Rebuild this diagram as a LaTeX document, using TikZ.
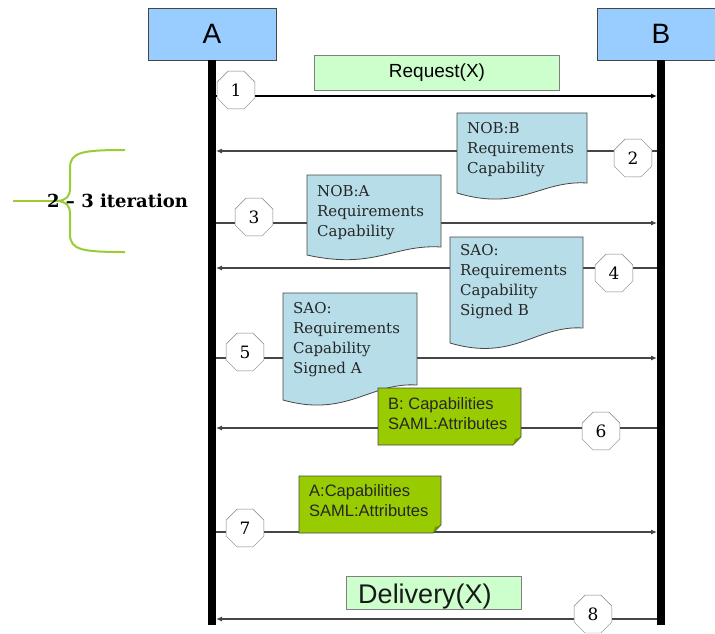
\documentclass[tikz,border=0pt]{standalone}
\usepackage{fontspec}
\setmainfont{DejaVu Serif}
\setsansfont{Liberation Sans}
\usepackage{tikz}
\usetikzlibrary{shapes.geometric}
\usetikzlibrary{arrows.meta}
\usetikzlibrary{positioning}
\definecolor{actorblue}{RGB}{153,204,255}
\definecolor{paleblue}{RGB}{183,221,232}
\definecolor{palegreen}{RGB}{204,255,204}
\definecolor{attrgreen}{RGB}{153,204,0}
\definecolor{foldgreen}{RGB}{110,150,0}
\definecolor{bracegreen}{RGB}{154,205,50}
\definecolor{edgegray}{RGB}{70,70,70}
\tikzset{
    actor/.style = {rectangle, draw=edgegray, fill=actorblue, inner sep=0pt, font=\sffamily\fontsize{28}{32}\selectfont, minimum width=128pt, minimum height=52pt},
    lifeline/.style = {line width=8.5pt, black},
    stepnode/.style = {regular polygon, regular polygon sides=8, draw=gray, fill=white, inner sep=0pt, minimum size=41pt, font=\fontsize{17}{20}\selectfont},
    palebox/.style = {rectangle, draw=gray, fill=palegreen, inner sep=0pt},
}

\begin{document}
\begin{tikzpicture}[
	x=1pt, y=-1pt,
	font=\fontsize{15}{20}\selectfont
]
\tikzset{
    msg/.style = {-{Latex[length=6pt,width=5pt]}, line width=1.1pt, edgegray},
    docshape/.style = {draw=edgegray, fill=paleblue, line width=0.8pt},
    attrshape/.style = {draw=edgegray, fill=attrgreen, line width=0.8pt},
    doctext/.style = {anchor=north west, inner sep=0pt, align=left, text=black!85},
    attrtext/.style = {anchor=north west, inner sep=0pt, align=left, text=black!85, font=\sffamily\fontsize{16.5}{20}\selectfont}
}
\useasboundingbox (0,0) rectangle (715,633);
%
\node[actor] at (212,34) (a) {A};
\node[actor] at (661,34) (b) {B};
\coordinate (aend) at (212,625);
\coordinate (bend) at (661,625);
\draw[lifeline] (a.south) -- (aend);
\draw[lifeline] (b.south) -- (bend);
%
\foreach \i/\y in {1/96,2/151,3/223,4/268,5/358,6/428,7/532,8/619}{
    \coordinate (a\i) at (216,\y);
    \coordinate (b\i) at (657,\y);
}
\draw[msg, black] (a1) -- (b1);
\draw[msg] (b2) -- (a2);
\draw[msg] (a3) -- (b3);
\draw[msg] (b4) -- (a4);
\draw[msg] (a5) -- (b5);
\draw[msg] (b6) -- (a6);
\draw[msg] (a7) -- (b7);
\draw[msg] (b8) -- (a8);
%
\node[palebox, minimum width=245pt, minimum height=35pt, font=\sffamily\fontsize{19}{22}\selectfont] at (437,72.5) (req) {Request(X)};
%
\draw[docshape] (457,113) -- (587,113) -- (587,183) .. controls (540,180) and (520,212) .. (457,193) -- cycle;
\draw[docshape] (307,175) -- (441,175) -- (441,247) .. controls (394,244) and (374,270) .. (307,255) -- cycle;
\draw[docshape] (450,237) -- (583,237) -- (583,328) .. controls (536,325) and (514,362) .. (450,343) -- cycle;
\draw[docshape] (283,293) -- (417,293) -- (417,385) .. controls (370,382) and (347,418) .. (283,400) -- cycle;
\node[doctext] at (467,122) (m2) {NOB:B\\Requirements\\Capability};
\node[doctext] at (317,185) (m3) {NOB:A\\Requirements\\Capability};
\node[doctext] at (460,244) (m4) {SAO:\\Requirements\\Capability\\Signed B};
\node[doctext] at (293,302) (m5) {SAO:\\Requirements\\Capability\\Signed A};
%
\draw[attrshape] (378,388) -- (521,388) -- (521,437) -- (513,445) -- (378,445) -- cycle;
\fill[foldgreen] (513,445) -- (515,439) -- (521,437) -- cycle;
\draw[attrshape] (299,476) -- (441,476) -- (441,525) -- (433,533) -- (299,533) -- cycle;
\fill[foldgreen] (433,533) -- (435,527) -- (441,525) -- cycle;
\node[attrtext] at (388,397) (m6) {B: Capabilities\\SAML:Attributes};
\node[attrtext] at (309,484) (m7) {A:Capabilities\\SAML:Attributes};
%
\node[palebox, minimum width=175pt, minimum height=33pt] at (433.5,592.5) (delbox) {};
\node[font=\sffamily\fontsize{27}{30}\selectfont, text=black!90] at (425,597) (del) {Delivery(X)};
%
\node[stepnode] at (236,90) (s1) {1};
\node[stepnode] at (633,158) (s2) {2};
\node[stepnode] at (254,217) (s3) {3};
\node[stepnode] at (614,273) (s4) {4};
\node[stepnode] at (245,352) (s5) {5};
\node[stepnode] at (601,431) (s6) {6};
\node[stepnode] at (245,528) (s7) {7};
\node[stepnode] at (593,614) (s8) {8};
%
\draw[bracegreen, line width=2pt] (125,150) .. controls (82,150) and (70,152) .. (70,168) -- (70,188) .. controls (70,197) and (66,200) .. (58,201) .. controls (66,202) and (70,205) .. (70,214) -- (70,234) .. controls (70,250) and (82,252) .. (125,252);
\coordinate (tip) at (13,201);
\draw[bracegreen, line width=1.5pt] (58,201) -- (tip);
\node[anchor=west, inner sep=0pt, font=\bfseries\fontsize{18}{20}\selectfont] at (47,201) (iter) {2 – 3 iteration};
\end{tikzpicture}
\end{document}
